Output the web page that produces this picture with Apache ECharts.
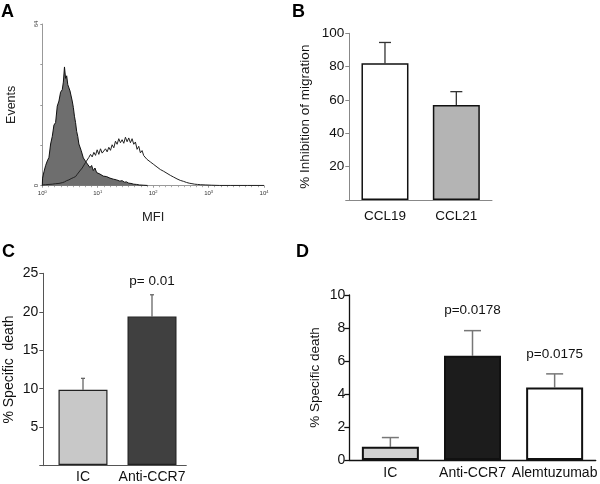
<!DOCTYPE html>
<html><head><meta charset="utf-8">
<script src="https://cdn.jsdelivr.net/npm/echarts@6/dist/echarts.min.js"></script>
<style>html,body{margin:0;padding:0;background:#fff}#c{width:600px;height:484px}</style>
</head><body><div id="c"></div>
<script>
// ---- Panel A: flow cytometry histograms (x = log10 MFI, y = events)
var fillX = [0.00,0.005,0.03,0.06,0.09,0.12,0.15,0.18,0.21,0.24,0.27,0.30,0.33,0.36,0.38,0.40,0.42,0.44,0.46,0.48,0.50,0.52,0.54,0.56,0.58,0.60,0.62,0.64,0.66,0.68,0.70,0.72,0.74,0.77,0.80,0.83,0.86,0.89,0.92,0.95,0.98,1.01,1.04,1.07,1.10,1.13,1.16,1.19,1.22,1.25,1.28,1.31,1.34,1.37,1.40,1.44,1.48,1.52,1.56,1.60,1.65,1.70,1.75,1.82,1.90];
var fillY = [0,3.0,5.5,8.0,9.8,11.2,16.5,19.5,24.0,25.0,31.5,33.5,37.0,38.0,41.0,47.0,42.5,43.5,40.0,40.5,37.5,38.0,33.5,31.0,27.5,25.0,21.5,19.5,16.5,16.0,14.0,13.5,11.0,10.5,9.0,9.5,7.2,8.0,6.0,7.0,5.2,5.8,4.6,5.2,3.8,4.5,3.6,4.0,3.0,3.6,2.6,3.0,2.3,2.6,1.8,2.0,1.4,1.5,1.0,0.9,0.6,0.5,0.3,0.2,0.1];
var openX = [0.00,0.06,0.12,0.18,0.24,0.30,0.36,0.40,0.44,0.48,0.52,0.56,0.60,0.63,0.66,0.69,0.72,0.75,0.78,0.81,0.84,0.87,0.90,0.93,0.96,0.99,1.02,1.05,1.08,1.11,1.14,1.17,1.20,1.23,1.26,1.29,1.32,1.35,1.38,1.41,1.44,1.47,1.50,1.53,1.56,1.59,1.62,1.65,1.68,1.71,1.74,1.77,1.80,1.83,1.86,1.89,1.92,1.95,1.98,2.01,2.04,2.07,2.10,2.13,2.16,2.19,2.22,2.25,2.28,2.31,2.34,2.37,2.40,2.43,2.46,2.49,2.52,2.55,2.60,2.65,2.70,2.75,2.80,2.85,2.95,3.05,3.20,3.40,3.70,4.00];
var openY = [0.3,0.4,0.5,0.6,0.8,0.9,1.2,1.5,2.0,2.3,2.8,3.2,3.6,4.5,5.0,6.2,7.0,7.6,9.2,9.8,11.2,12.4,11.4,13.2,12.0,14.2,12.4,14.6,12.9,12.8,14.6,13.4,15.2,14.0,16.2,15.0,17.6,16.4,18.6,17.0,18.2,16.8,19.2,17.4,18.9,17.0,18.6,16.4,17.3,14.4,15.6,13.0,13.9,11.9,12.6,10.4,11.1,9.4,10.1,8.4,8.9,7.4,7.9,6.4,7.1,5.7,6.1,4.9,5.4,4.1,4.5,3.4,3.7,2.7,3.0,2.1,2.0,1.7,1.3,1.0,0.8,0.6,0.5,0.4,0.3,0.2,0.1,0.1,0.1,0.1];
var aXTicks = ['0','1','2','3','4'];
// ---- Panel B
var bCats = ['CCL19','CCL21'];
var bVals = [82,57];
var bErr = [94.5,65];
var bColors = ['#ffffff','#b4b4b4'];
// ---- Panel C
var cCats = ['IC','Anti-CCR7'];
var cVals = [9.8,19.35];
var cErr = [11.3,22.2];
var cColors = ['#c8c8c8','#404040'];
var cP = ['','p= 0.01'];
// ---- Panel D
var dCats = ['IC','Anti-CCR7','Alemtuzumab'];
var dVals = [0.8,6.32,4.4];
var dErr = [1.36,7.84,5.22];
var dColors = ['#d0d0d0','#1c1c1c','#ffffff'];
var dP = ['','p=0.0178','p=0.0175'];

var FF = '"Liberation Sans", Arial, sans-serif';
function pairs(xs, ys){ return xs.map(function(x,i){return [x, ys[i]];}); }
function barData(vals, cols){ return vals.map(function(v,i){return {value:v, itemStyle:{color:cols[i]}};}); }
function errData(vals, errs){ return vals.map(function(v,i){return [i, v, errs[i]];}); }
function errRender(capW, color, lw, labels, off){
  return function(params, api){
    var i = api.value(0), v = api.value(1), e = api.value(2);
    var p0 = api.coord([i, v]), p1 = api.coord([i, e]);
    var ch = [
      {type:'line', shape:{x1:p0[0],y1:p0[1],x2:p1[0],y2:p1[1]}, style:{stroke:color,lineWidth:lw}},
      {type:'line', shape:{x1:p1[0]-capW/2,y1:p1[1],x2:p1[0]+capW/2,y2:p1[1]}, style:{stroke:color,lineWidth:lw}}
    ];
    var t = labels ? labels[params.dataIndex] : '';
    if (t) ch.push({type:'text', x:p1[0], y:p1[1]-off, style:{text:t, align:'center', verticalAlign:'middle', fontSize:13.5, fontFamily:FF, fill:'#111'}});
    return {type:'group', children:ch};
  };
}
var chart = echarts.init(document.getElementById('c'), null, {renderer:'canvas'});
var option = {
  animation:false,
  backgroundColor:'#fff',
  graphic:[
    {type:'text', left:1, top:3, style:{text:'A', fontSize:18, fontWeight:'bold', fontFamily:FF, fill:'#000'}},
    {type:'text', left:292, top:3, style:{text:'B', fontSize:18, fontWeight:'bold', fontFamily:FF, fill:'#000'}},
    {type:'text', left:2, top:243, style:{text:'C', fontSize:18, fontWeight:'bold', fontFamily:FF, fill:'#000'}},
    {type:'text', left:296, top:243, style:{text:'D', fontSize:18, fontWeight:'bold', fontFamily:FF, fill:'#000'}}
  ],
  grid:[
    {left:42.3, top:24, width:221.7, height:161.7},
    {left:349.3, top:33.3, width:142.7, height:166.7},
    {left:43.3, top:273.3, width:143, height:192.4},
    {left:48.5, top:273.3, width:138, height:192.4},
    {left:349.3, top:295, width:249, height:165}
  ],
  xAxis:[
    {gridIndex:0, type:'value', min:0, max:4, interval:1,
     name:'MFI', nameLocation:'middle', nameGap:25, nameTextStyle:{fontSize:13, fontFamily:FF, color:'#222'},
     axisLine:{lineStyle:{color:'#999', width:1}}, axisTick:{length:2, lineStyle:{color:'#999'}},
     minorTick:{show:true, splitNumber:9, length:1.5, lineStyle:{color:'#aaa'}},
     splitLine:{show:false},
     axisLabel:{margin:4, formatter:function(v){return '{b|10}{s|'+aXTicks[Math.round(v)]+'}';},
       rich:{b:{fontSize:6, fontFamily:FF, color:'#333'}, s:{fontSize:4, fontFamily:FF, color:'#333', verticalAlign:'top', padding:[0,0,3,0]}}}},
    {gridIndex:1, type:'category', data:bCats,
     axisLine:{lineStyle:{color:'#888', width:1}}, axisTick:{alignWithLabel:true, length:4, lineStyle:{color:'#888'}},
     axisLabel:{interval:0, fontSize:13.5, fontFamily:FF, color:'#111', margin:9}},
    {gridIndex:2, type:'category', data:cCats,
     axisLine:{lineStyle:{color:'#555', width:1}}, axisTick:{show:false}, axisLabel:{show:false}},
    {gridIndex:3, type:'category', data:cCats,
     axisLine:{show:false}, axisTick:{show:false},
     axisLabel:{interval:0, fontSize:14, fontFamily:FF, color:'#111', margin:5}},
    {gridIndex:4, type:'category', data:dCats,
     axisLine:{lineStyle:{color:'#111', width:1.3}}, axisTick:{alignWithLabel:true, length:5, lineStyle:{color:'#111', width:1.3}},
     axisLabel:{interval:0, fontSize:14, fontFamily:FF, color:'#111', margin:6}}
  ],
  yAxis:[
    {gridIndex:0, type:'value', min:0, max:64, interval:16,
     name:'Events', nameLocation:'middle', nameGap:24, nameRotate:90, nameTextStyle:{fontSize:12.5, fontFamily:FF, color:'#222'},
     axisLine:{show:true, lineStyle:{color:'#999'}}, axisTick:{show:true, length:2, lineStyle:{color:'#999'}},
     splitLine:{show:false},
     axisLabel:{rotate:90, fontSize:6, fontFamily:FF, color:'#333', margin:3,
       formatter:function(v){return (v===0||v===64)?String(v):'';}}},
    {gridIndex:1, type:'value', min:0, max:100, interval:20,
     name:'% Inhibition of migration', nameLocation:'middle', nameGap:37, nameRotate:90, nameTextStyle:{fontSize:13.5, fontFamily:FF, color:'#111'},
     axisLine:{show:true, lineStyle:{color:'#888'}}, axisTick:{show:true, length:4, lineStyle:{color:'#888'}},
     splitLine:{show:false},
     axisLabel:{fontSize:13.5, fontFamily:FF, color:'#111', margin:5, formatter:function(v){return v===0?'':String(v);}}},
    {gridIndex:2, type:'value', min:0, max:25, interval:5,
     name:'% Specific  death', nameLocation:'middle', nameGap:27, nameRotate:90, nameTextStyle:{fontSize:14, fontFamily:FF, color:'#111'},
     axisLine:{show:true, lineStyle:{color:'#555'}}, axisTick:{show:true, length:4, lineStyle:{color:'#555'}},
     splitLine:{show:false},
     axisLabel:{fontSize:14, fontFamily:FF, color:'#111', margin:5, formatter:function(v){return v===0?'':String(v);}}},
    {gridIndex:3, type:'value', min:0, max:25, interval:5, show:false},
    {gridIndex:4, type:'value', min:0, max:10, interval:2,
     name:'% Specific death', nameLocation:'middle', nameGap:27, nameRotate:90, nameTextStyle:{fontSize:13.5, fontFamily:FF, color:'#111'},
     axisLine:{show:true, lineStyle:{color:'#111', width:1.3}}, axisTick:{show:true, length:5, lineStyle:{color:'#111', width:1.3}},
     splitLine:{show:false},
     axisLabel:{fontSize:14, fontFamily:FF, color:'#111', margin:4}}
  ],
  series:[
    {type:'line', xAxisIndex:0, yAxisIndex:0, data:pairs(fillX, fillY), symbol:'none',
     lineStyle:{color:'#111', width:1}, areaStyle:{color:'#6e6e6e', opacity:1}, z:2},
    {type:'line', xAxisIndex:0, yAxisIndex:0, data:pairs(openX, openY), symbol:'none',
     lineStyle:{color:'#222', width:1}, z:3},
    {type:'bar', xAxisIndex:1, yAxisIndex:1, data:barData(bVals, bColors), barWidth:47,
     itemStyle:{borderColor:'#111', borderWidth:1.5}},
    {type:'custom', xAxisIndex:1, yAxisIndex:1, data:errData(bVals, bErr),
     renderItem:errRender(12, '#333', 1.3, null, 0)},
    {type:'bar', xAxisIndex:3, yAxisIndex:3, data:barData(cVals, cColors), barWidth:49,
     itemStyle:{borderColor:'#222', borderWidth:1.2}},
    {type:'custom', xAxisIndex:3, yAxisIndex:3, data:errData(cVals, cErr),
     renderItem:errRender(4, '#666', 1.3, cP, 13)},
    {type:'bar', xAxisIndex:4, yAxisIndex:4, data:barData(dVals, dColors), barWidth:57,
     itemStyle:{borderColor:'#111', borderWidth:2}},
    {type:'custom', xAxisIndex:4, yAxisIndex:4, data:errData(dVals, dErr),
     renderItem:errRender(17, '#777', 1.5, dP, 20)}
  ]
};
chart.setOption(option);
</script></body></html>
